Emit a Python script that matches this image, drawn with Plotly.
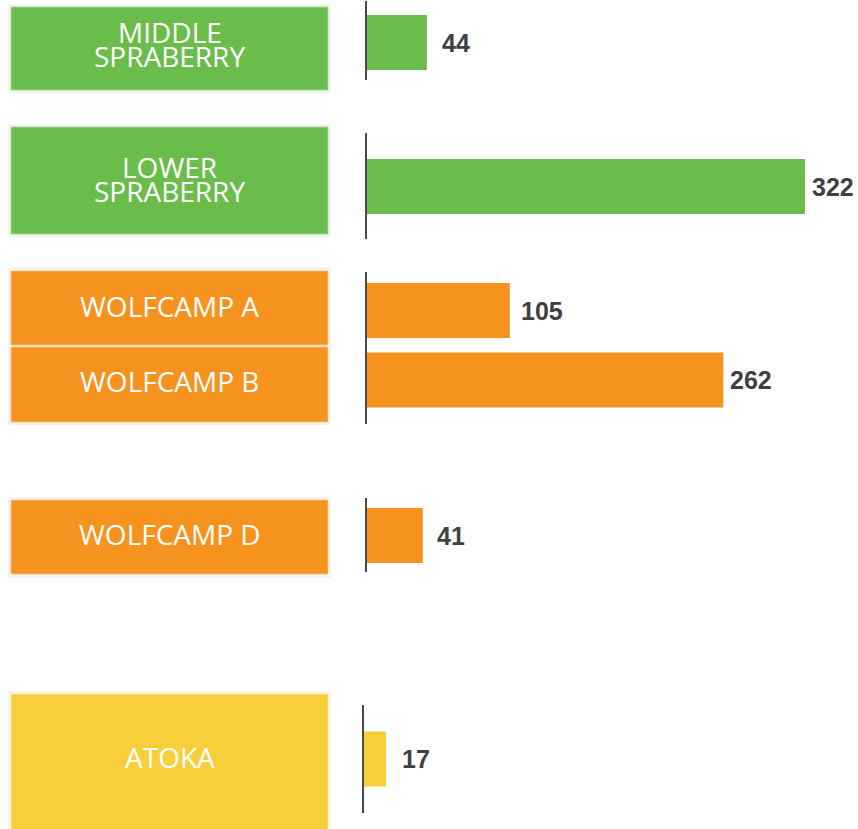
import plotly.graph_objects as go

# ---- data ----
categories = ["MIDDLE SPRABERRY", "LOWER SPRABERRY", "WOLFCAMP A", "WOLFCAMP B", "WOLFCAMP D", "ATOKA"]
values = [44, 322, 105, 262, 41, 17]
label_lines = [["MIDDLE", "SPRABERRY"], ["LOWER", "SPRABERRY"], ["WOLFCAMP A"], ["WOLFCAMP B"], ["WOLFCAMP D"], ["ATOKA"]]

# ---- layout / style ----
W, H = 858, 829
PX_PER_UNIT = 1.36
BASE_PX = 367
BASE_PX_ATOKA = 363
GREEN, ORANGE, YELLOW = "#6BBD4B", "#F6921E", "#F7CF3B"
colors = [GREEN, GREEN, ORANGE, ORANGE, ORANGE, YELLOW]
tints = ["#9fd68a", "#9fd68a", "#fbbd75", "#fbbd75", "#fbbd75", "#fbe28c"]
bar_pos = [42.5, 186.5, 310.5, 380, 535.5, 759]
label_gap = [13, 5, 9, 5, 12, 14]
text_pos = [[32, 56], [166.5, 190.5], [306], [381], [533.5], [757]]
inner_boxes = [(7, 90), (127, 234), (271, 345), (347, 422), (500, 574), (694, 840)]
outer_boxes = [(5, 92), (125, 236), (268, 424), (498, 577), (692, 842)]
axis_segments = [(366, 1, 80), (366, 133, 239), (366, 272, 424), (366, 498, 572), (363, 705, 813)]

fig = go.Figure()
fig.add_trace(go.Bar(
    x=values[:5], y=bar_pos[:5], orientation="h", width=55,
    marker=dict(color=colors[:5], line=dict(width=0)),
    xaxis="x", yaxis="y", hoverinfo="skip",
))
fig.add_trace(go.Bar(
    x=values[5:], y=bar_pos[5:], orientation="h", width=55,
    marker=dict(color=colors[5:], line=dict(width=0)),
    xaxis="x2", yaxis="y", hoverinfo="skip",
))

shapes = []
BX0, BX1 = 9, 330
IX0, IX1 = 11, 328
for (y0, y1) in outer_boxes:
    shapes.append(dict(type="rect", xref="paper", yref="y", x0=BX0 / W, x1=BX1 / W, y0=y0, y1=y1,
                       fillcolor="white", line=dict(color="#e6e6e6", width=1), layer="below"))
for (y0, y1), c, t in zip(inner_boxes, colors, tints):
    shapes.append(dict(type="rect", xref="paper", yref="y", x0=IX0 / W, x1=IX1 / W, y0=y0, y1=y1,
                       fillcolor=c, line=dict(color=t, width=1), layer="below"))
for (px, y0, y1) in axis_segments:
    shapes.append(dict(type="line", xref="paper", yref="y", x0=px / W, x1=px / W, y0=y0, y1=y1,
                       line=dict(color="#4a4a4a", width=2)))

annotations = []
for lines, ys in zip(label_lines, text_pos):
    for txt, yy in zip(lines, ys):
        annotations.append(dict(xref="paper", yref="y", x=169.5 / W, y=yy, text=txt, showarrow=False,
                                xanchor="center", yanchor="middle", height=22,
                                font=dict(family="Open Sans", size=28, color="white")))
for i, (v, yy, g) in enumerate(zip(values, bar_pos, label_gap)):
    annotations.append(dict(xref="x2" if i == 5 else "x", yref="y", x=v, y=yy, text=str(v),
                            showarrow=False, xanchor="left", yanchor="middle", xshift=g,
                            font=dict(family="Liberation Sans, Arial", size=25, color="#404040", weight="bold")))

fig.update_layout(
    width=W, height=H, margin=dict(l=0, r=0, t=0, b=0),
    paper_bgcolor="white", plot_bgcolor="white", showlegend=False,
    xaxis=dict(range=[-BASE_PX / PX_PER_UNIT, (W - BASE_PX) / PX_PER_UNIT], domain=[0, 1], visible=False, fixedrange=True),
    xaxis2=dict(range=[-BASE_PX_ATOKA / PX_PER_UNIT, (W - BASE_PX_ATOKA) / PX_PER_UNIT], domain=[0, 1],
                overlaying="x", visible=False, fixedrange=True),
    yaxis=dict(range=[H, 0], visible=False, fixedrange=True),
    shapes=shapes, annotations=annotations,
)

fig.write_html("out.html", config={"displayModeBar": False},
               post_script="document.body.style.margin='0';document.body.style.overflow='hidden';")
